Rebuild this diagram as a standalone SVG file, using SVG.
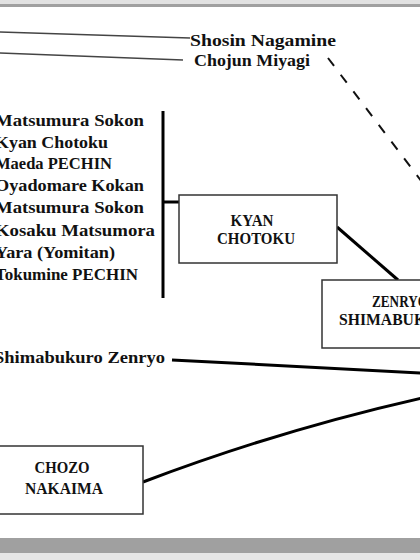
<svg xmlns="http://www.w3.org/2000/svg" width="420" height="560" viewBox="0 0 420 560">
<style>
text{font-family:"Liberation Serif","DejaVu Serif",serif;font-weight:bold;fill:#111}
.lst{font-size:17px}
.bx{font-size:17px;text-anchor:middle}
.box{fill:#fff;stroke:#333;stroke-width:1.5}
.thin{stroke:#444;stroke-width:1.5;fill:none}
.thick{stroke:#000;stroke-width:3;fill:none}
.dash{stroke:#111;stroke-width:2;stroke-dasharray:10 11;fill:none}
</style>
<rect x="0" y="0" width="420" height="560" fill="#fff"/>
<rect x="0" y="0" width="420" height="4" fill="#e2e2e2"/>
<rect x="0" y="4" width="420" height="3" fill="#a0a0a0"/>
<rect x="0" y="538" width="420" height="15" fill="#a0a0a0"/>
<rect x="0" y="553" width="420" height="7" fill="#e6e6e6"/>
<g id="connectors">
<line class="thin" x1="0" y1="32" x2="190" y2="38"/>
<line class="thin" x1="0" y1="53" x2="183" y2="60"/>
<line class="dash" x1="328" y1="58" x2="422" y2="182"/>
<line class="thick" x1="163" y1="111" x2="163" y2="298"/>
<line class="thick" x1="163" y1="202" x2="180" y2="202"/>
<line class="thick" x1="337" y1="227" x2="398" y2="280"/>
<line class="thick" x1="172" y1="360" x2="422" y2="373"/>
<path class="thick" d="M143,482 Q280,430 422,398"/>
</g>
<g id="shosin-nagamine"><text class="lst" x="190" y="46" textLength="146" lengthAdjust="spacingAndGlyphs">Shosin Nagamine</text></g>
<g id="chojun-miyagi"><text class="lst" x="194" y="66" textLength="116" lengthAdjust="spacingAndGlyphs">Chojun Miyagi</text></g>
<g id="masters-list">
<text class="lst" x="-5" y="126" textLength="149" lengthAdjust="spacingAndGlyphs">Matsumura Sokon</text>
<text class="lst" x="-5" y="148" textLength="113" lengthAdjust="spacingAndGlyphs">Kyan Chotoku</text>
<text class="lst" x="-5" y="169" textLength="117" lengthAdjust="spacingAndGlyphs">Maeda PECHIN</text>
<text class="lst" x="-5" y="191" textLength="149" lengthAdjust="spacingAndGlyphs">Oyadomare Kokan</text>
<text class="lst" x="-5" y="213" textLength="149" lengthAdjust="spacingAndGlyphs">Matsumura Sokon</text>
<text class="lst" x="-5" y="236" textLength="160" lengthAdjust="spacingAndGlyphs">Kosaku Matsumora</text>
<text class="lst" x="-5" y="258" textLength="120" lengthAdjust="spacingAndGlyphs">Yara (Yomitan)</text>
<text class="lst" x="-5" y="280" textLength="143" lengthAdjust="spacingAndGlyphs">Tokumine PECHIN</text>
</g>
<g id="kyan-chotoku">
<rect class="box" x="179" y="195" width="158" height="68"/>
<text class="bx" x="252" y="226" textLength="43" lengthAdjust="spacingAndGlyphs">KYAN</text>
<text class="bx" x="256" y="244" textLength="78" lengthAdjust="spacingAndGlyphs">CHOTOKU</text>
</g>
<g id="zenryo-shimabukuro">
<rect class="box" x="322" y="280" width="160" height="68"/>
<text class="bx" x="400" y="307" textLength="56" lengthAdjust="spacingAndGlyphs">ZENRYO</text>
<text class="bx" x="400" y="325" textLength="122" lengthAdjust="spacingAndGlyphs">SHIMABUKURO</text>
</g>
<g id="shimabukuro-zenryo"><text class="lst" x="-6" y="363" textLength="171" lengthAdjust="spacingAndGlyphs">Shimabukuro Zenryo</text></g>
<g id="chozo-nakaima">
<rect class="box" x="-16" y="446" width="159" height="68"/>
<text class="bx" x="62" y="473" textLength="55" lengthAdjust="spacingAndGlyphs">CHOZO</text>
<text class="bx" x="64" y="494" textLength="78" lengthAdjust="spacingAndGlyphs">NAKAIMA</text>
</g>
</svg>
